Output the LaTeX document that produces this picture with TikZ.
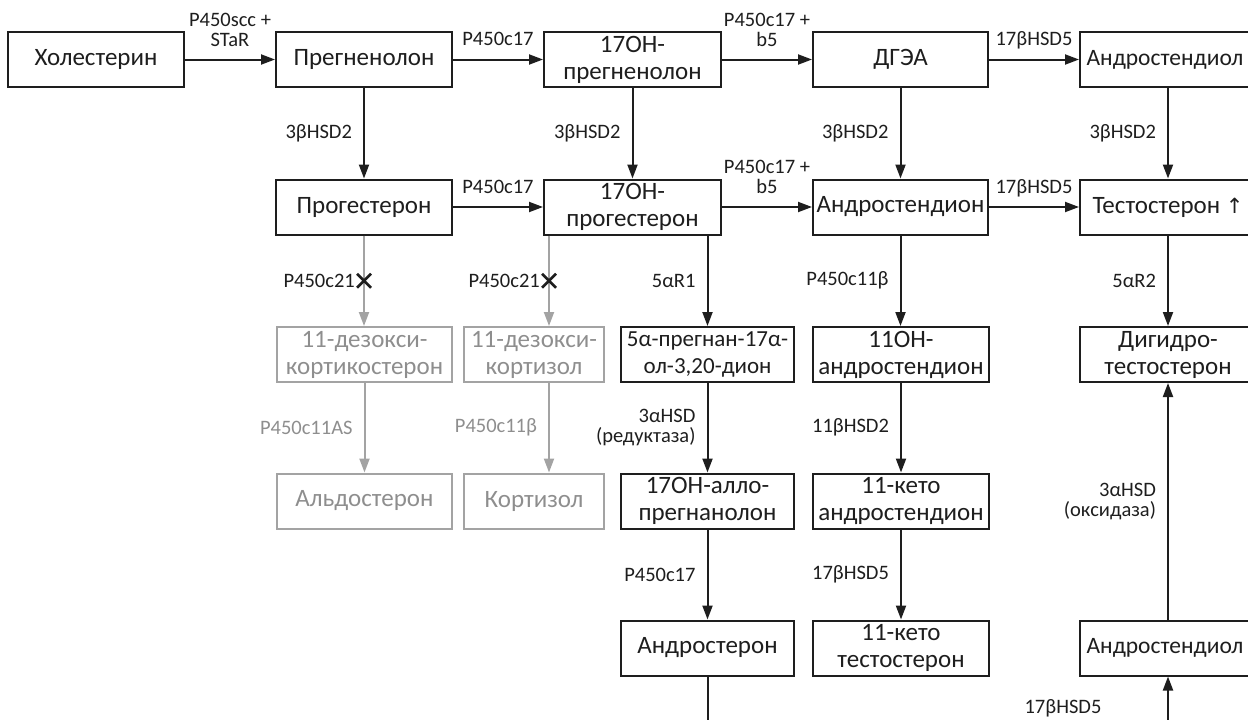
\documentclass[tikz,border=0pt]{standalone}
\usepackage{fontspec}
\setmainfont{Carlito}
\newfontfamily\symfont{DejaVu Sans}
\usetikzlibrary{arrows.meta}
\definecolor{ink}{HTML}{1E1E1E}
\definecolor{lgray}{HTML}{A3A3A3}
\definecolor{tgray}{HTML}{8E8E8E}
\begin{document}
\begin{tikzpicture}[x=1pt,y=-1pt,
  box/.style={draw=ink, line width=2pt, text=ink, minimum height=55pt, inner sep=0pt,
    align=center, font=\fontsize{25}{27}\selectfont},
  gbox/.style={box, draw=lgray, text=tgray},
  lab/.style={text=ink, font=\fontsize{20.5}{20}\selectfont, inner sep=0pt, align=center},
  glab/.style={lab, text=tgray},
  arr/.style={draw=ink, line width=2pt, -{Triangle[length=14pt,width=10pt]}},
  garr/.style={arr, draw=lgray},
  hlab/.style={lab, midway, anchor=base, yshift=14pt},
  hlabb/.style={lab, midway, anchor=south, yshift=12pt},
  vlab/.style={lab, midway, anchor=east, xshift=-11pt},
  gvlab/.style={vlab, text=tgray},
  cross/.style={draw=ink, line width=2.8pt},
  edgetext/.style={font=\fontsize{23.5}{27}\selectfont, xshift=-3pt}
]
\useasboundingbox (0,0) rectangle (1248,720);
\clip (0,0) rectangle (1248,720);

% row 1
\node[box, minimum width=176pt] (chol)   at (96,59.5)    {Холестерин};
\node[box, minimum width=176pt] (preg)   at (364,59.5)   {Прегненолон};
\node[box, minimum width=177pt] (ohpreg) at (632.5,59.5) {17OH-\\прегненолон};
\node[box, minimum width=175pt] (dhea)   at (900.5,59.5) {ДГЭА};
\node[box, minimum width=176pt] (adiol)  at (1168,59.5)  {};
\node[edgetext, text=ink] (adioltxt) at (adiol) {Андростендиол};
% row 2
\node[box, minimum width=176pt] (prog)   at (364,207)    {Прогестерон};
\node[box, minimum width=177pt] (ohprog) at (632.5,207)  {17OH-\\прогестерон};
\node[box, minimum width=175pt] (adione) at (900.5,207)  {Андростендион};
\node[box, minimum width=176pt] (testo)  at (1168,207)   {Тестостерон {\symfont\fontsize{21}{21}\selectfont ↑}};
% row 3
\node[gbox, minimum width=175pt] (doc)     at (364.5,354.5) {11-дезокси-\\кортикостерон};
\node[gbox, minimum width=140pt] (dcort)   at (534,354.5)   {11-дезокси-\\кортизол};
\node[box, minimum width=173pt, font=\fontsize{23}{27}\selectfont] (pregnan) at (707.5,354.5) {5α-прегнан-17α-\\ол-3,20-дион};
\node[box, minimum width=176pt] (ohadione) at (901,354.5)   {11OH-\\андростендион};
\node[box, minimum width=176pt] (dht)      at (1168,354.5)  {Дигидро-\\тестостерон};
% row 4
\node[gbox, minimum width=175pt] (aldo)      at (364.5,501) {Альдостерон};
\node[gbox, minimum width=140pt] (cort)      at (534,501)   {Кортизол};
\node[box, minimum width=173pt] (allo)       at (707.5,501) {17OH-алло-\\прегнанолон};
\node[box, minimum width=176pt] (ketoadione) at (901,501)   {11-кето\\андростендион};
% row 5
\node[box, minimum width=173pt] (andr)      at (707.5,648) {Андростерон};
\node[box, minimum width=176pt] (ketotesto) at (901,648)   {11-кето\\тестостерон};
\node[box, minimum width=176pt] (adiol2)    at (1168,648)  {};
\node[edgetext, text=ink] (adiol2txt) at (adiol2) {Андростендиол};

% horizontal arrows, row 1
\draw[arr] (chol) -- node[hlabb] {P450scc +\\STaR} (preg);
\draw[arr] (preg) -- node[hlab] {P450c17} (ohpreg);
\draw[arr] (ohpreg) -- node[hlabb] {P450c17 +\\b5} (dhea);
\draw[arr] (dhea) -- node[hlab] {17βHSD5} (adiol);
% horizontal arrows, row 2
\draw[arr] (prog) -- node[hlab] {P450c17} (ohprog);
\draw[arr] (ohprog) -- node[hlabb] {P450c17 +\\b5} (adione);
\draw[arr] (adione) -- node[hlab] {17βHSD5} (testo);

% vertical arrows, rows 1-2
\draw[arr] (preg.south) -- node[vlab] {3βHSD2} (preg.south |- prog.north);
\draw[arr] (ohpreg.south) -- node[vlab] {3βHSD2} (ohpreg.south |- ohprog.north);
\draw[arr] (dhea.south) -- node[vlab] {3βHSD2} (dhea.south |- adione.north);
\draw[arr] (adiol.south) -- node[vlab] {3βHSD2} (adiol.south |- testo.north);

% gray branches
\coordinate (gx) at (549,0);
\draw[garr] (prog.south) -- coordinate[midway] (x1) (prog.south |- doc.north);
\draw[garr] (ohprog.south -| gx) -- coordinate[midway] (x2) (dcort.north -| gx);
\draw[cross] ([shift={(-7,-7)}]x1) -- ([shift={(7,7)}]x1);
\draw[cross] ([shift={(-7,7)}]x1) -- ([shift={(7,-7)}]x1);
\draw[cross] ([shift={(-7,-7)}]x2) -- ([shift={(7,7)}]x2);
\draw[cross] ([shift={(-7,7)}]x2) -- ([shift={(7,-7)}]x2);
\node[lab, anchor=east] (c21a) at ([xshift=-9pt]x1) {P450c21};
\node[lab, anchor=east] (c21b) at ([xshift=-9pt]x2) {P450c21};
\draw[garr] (doc.south) -- node[gvlab] {P450c11AS} (doc.south |- aldo.north);
\draw[garr] (dcort.south -| gx) -- node[gvlab] {P450c11β} (cort.north -| gx);

% 5alpha branch
\draw[arr] (ohprog.south -| pregnan.north) -- node[vlab] {5αR1} (pregnan.north);
\draw[arr] (pregnan.south) -- node[vlab, align=right] {3αHSD\\(редуктаза)} (allo.north);
\draw[arr] (allo.south) -- node[vlab] {P450c17} (andr.north);

% 11-oxygenated branch
\draw[arr] (adione.south) -- node[vlab] {P450c11β} (adione.south |- ohadione.north);
\draw[arr] (ohadione.south) -- node[vlab] {11βHSD2} (ketoadione.north);
\draw[arr] (ketoadione.south) -- node[vlab] {17βHSD5} (ketotesto.north);

% DHT
\draw[arr] (testo.south) -- node[vlab] {5αR2} (dht.north);
\draw[arr] (adiol2.north) -- node[vlab, align=right] {3αHSD\\(оксидаза)} (dht.south);

% path continuing below the frame
\coordinate (bend) at (709,770);
\draw[arr] (andr.south) -- (andr.south |- bend) -| (adiol2.south);
\node[lab] (l17b) at (1063,708) {17βHSD5};
\end{tikzpicture}
\end{document}
